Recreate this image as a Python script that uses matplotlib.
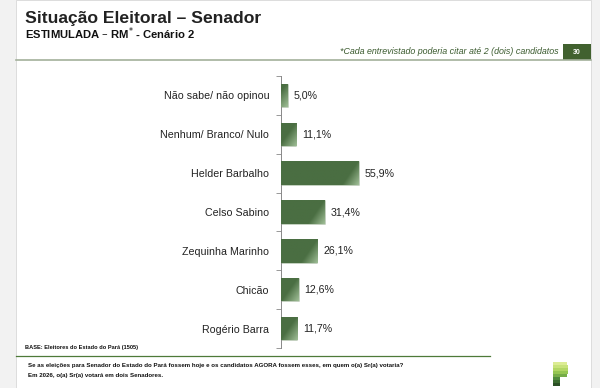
import numpy as np
import matplotlib.pyplot as plt
from matplotlib.patches import Rectangle
from matplotlib.colors import LinearSegmentedColormap

plt.rcParams['font.family'] = ['Liberation Sans', 'DejaVu Sans']

# data
candidatos = ['Não sabe/ não opinou', 'Nenhum/ Branco/ Nulo', 'Helder Barbalho',
              'Celso Sabino', 'Zequinha Marinho', 'Chicão', 'Rogério Barra']
valores = [5.0, 11.1, 55.9, 31.4, 26.1, 12.6, 11.7]
rotulos = ['5,0%', '11,1%', '55,9%', '31,4%', '26,1%', '12,6%', '11,7%']

W, H = 600, 388
PX_PER_PCT = 1.395
fig = plt.figure(figsize=(6, 3.88), dpi=100)
fig.patch.set_facecolor('#f2f2f2')


def fx(px):
    return px / W


def fy(py):
    return 1 - py / H


# white slide area
fig.patches.append(Rectangle((fx(16), 0), fx(575), 1, transform=fig.transFigure,
                             facecolor='white', edgecolor='#d8d8d8', lw=0.6, zorder=-5))

# header
fig.text(fx(25), fy(18), 'Situação Eleitoral – Senador', fontsize=12.6, fontweight='bold',
         color='#222222', va='center')
fig.text(fx(25), fy(34), 'ESTIMULADA – RM$^{*}$ - Cenário 2', fontsize=8.1, fontweight='bold',
         color='#111111', va='center')
fig.text(fx(559), fy(51), '*Cada entrevistado poderia citar até 2 (dois) candidatos',
         fontsize=6.4, style='italic', color='#3a5a2e', ha='right', va='center')
fig.patches.append(Rectangle((fx(563), fy(60)), fx(28), 16 / H, transform=fig.transFigure,
                             facecolor='#41612f', edgecolor='none'))
fig.text(fx(577), fy(52), '30', fontsize=5, fontweight='bold', color='white',
         ha='center', va='center')
fig.lines.append(plt.Line2D([fx(16), fx(591)], [fy(60), fy(60)], transform=fig.transFigure,
                            color='#a3b09b', lw=1.2))

# chart
ax = fig.add_axes([fx(281), fy(348), fx(230), 272 / H])
ax.set_facecolor('none')
y = np.arange(len(candidatos))
bars = ax.barh(y, valores, height=0.6, color='#4a6e42', edgecolor='#dfe8da',
               linewidth=0.4, zorder=2)

# soft light sheen in the bottom-right corner of each bar
cmap = LinearSegmentedColormap.from_list('g', ['#4a6e42', '#a6c49d'])
for b in bars:
    x0, y0, w, h = b.get_x(), b.get_y(), b.get_width(), b.get_height()
    wpx = max(int(w * PX_PER_PCT), 2)
    hpx = 23
    xx, yy = np.meshgrid(np.arange(wpx), np.arange(hpx))  # yy=0 at visual bottom
    d = (wpx - 1 - xx) + yy * 0.7
    t = np.clip(1 - d / 16.0, 0, 1) * 0.9
    im = ax.imshow(t, extent=(x0, x0 + w, y0 + h, y0), aspect='auto', cmap=cmap,
                   vmin=0, vmax=1, origin='lower', zorder=3, interpolation='bilinear')
    im.set_clip_path(b)

for yi, v, t in zip(y, valores, rotulos):
    ax.text(v + 4.3, yi, t, va='center', ha='left', fontsize=7.7, color='#222222')

ax.set_xlim(0, 230 / PX_PER_PCT)
ax.set_ylim(len(candidatos) - 0.5, -0.5)
ax.set_yticks(y)
ax.set_yticklabels(candidatos, fontsize=7.7, color='#222222')
ax.set_yticks(np.arange(-0.5, len(candidatos)), minor=True)
ax.tick_params(axis='y', which='major', length=0, pad=8.5)
ax.tick_params(axis='y', which='minor', length=3.5, color='#888888', width=0.6)
ax.set_xticks([])
for s in ['top', 'right', 'bottom']:
    ax.spines[s].set_visible(False)
ax.spines['left'].set_color('#888888')
ax.spines['left'].set_linewidth(0.7)

# footer
fig.text(fx(25), fy(348), 'BASE: Eleitores do Estado do Pará (1505)', fontsize=4.1,
         fontweight='bold', color='#111111', va='center')
fig.lines.append(plt.Line2D([fx(16), fx(490)], [fy(356), fy(356)], transform=fig.transFigure,
                            color='#4e7a38', lw=0.9))
fig.text(fx(28), fy(366), 'Se as eleições para Senador do Estado do Pará fossem hoje e os candidatos '
         'AGORA fossem esses, em quem o(a) Sr(a) votaria?', fontsize=4.45, fontweight='bold',
         color='#111111', va='center')
fig.text(fx(28), fy(376), 'Em 2026, o(a) Sr(a) votará em dois Senadores.', fontsize=4.45,
         fontweight='bold', color='#111111', va='center')

# logo stripes
logo_cols = ['#dcec94', '#c8e27a', '#b2d664', '#96c652', '#76ac48', '#4f8a3c', '#3b6b30', '#2b4f25']
logo_w = [14, 15, 15, 15, 14, 7, 7, 7]
for i, (c, wpx) in enumerate(zip(logo_cols, logo_w)):
    top = 362 + i * 3
    fig.patches.append(Rectangle((fx(553), fy(top + 2.6)), fx(wpx), 2.6 / H,
                                 transform=fig.transFigure, facecolor=c, edgecolor='none'))

fig.savefig('out.png', dpi=100, facecolor=fig.get_facecolor())
